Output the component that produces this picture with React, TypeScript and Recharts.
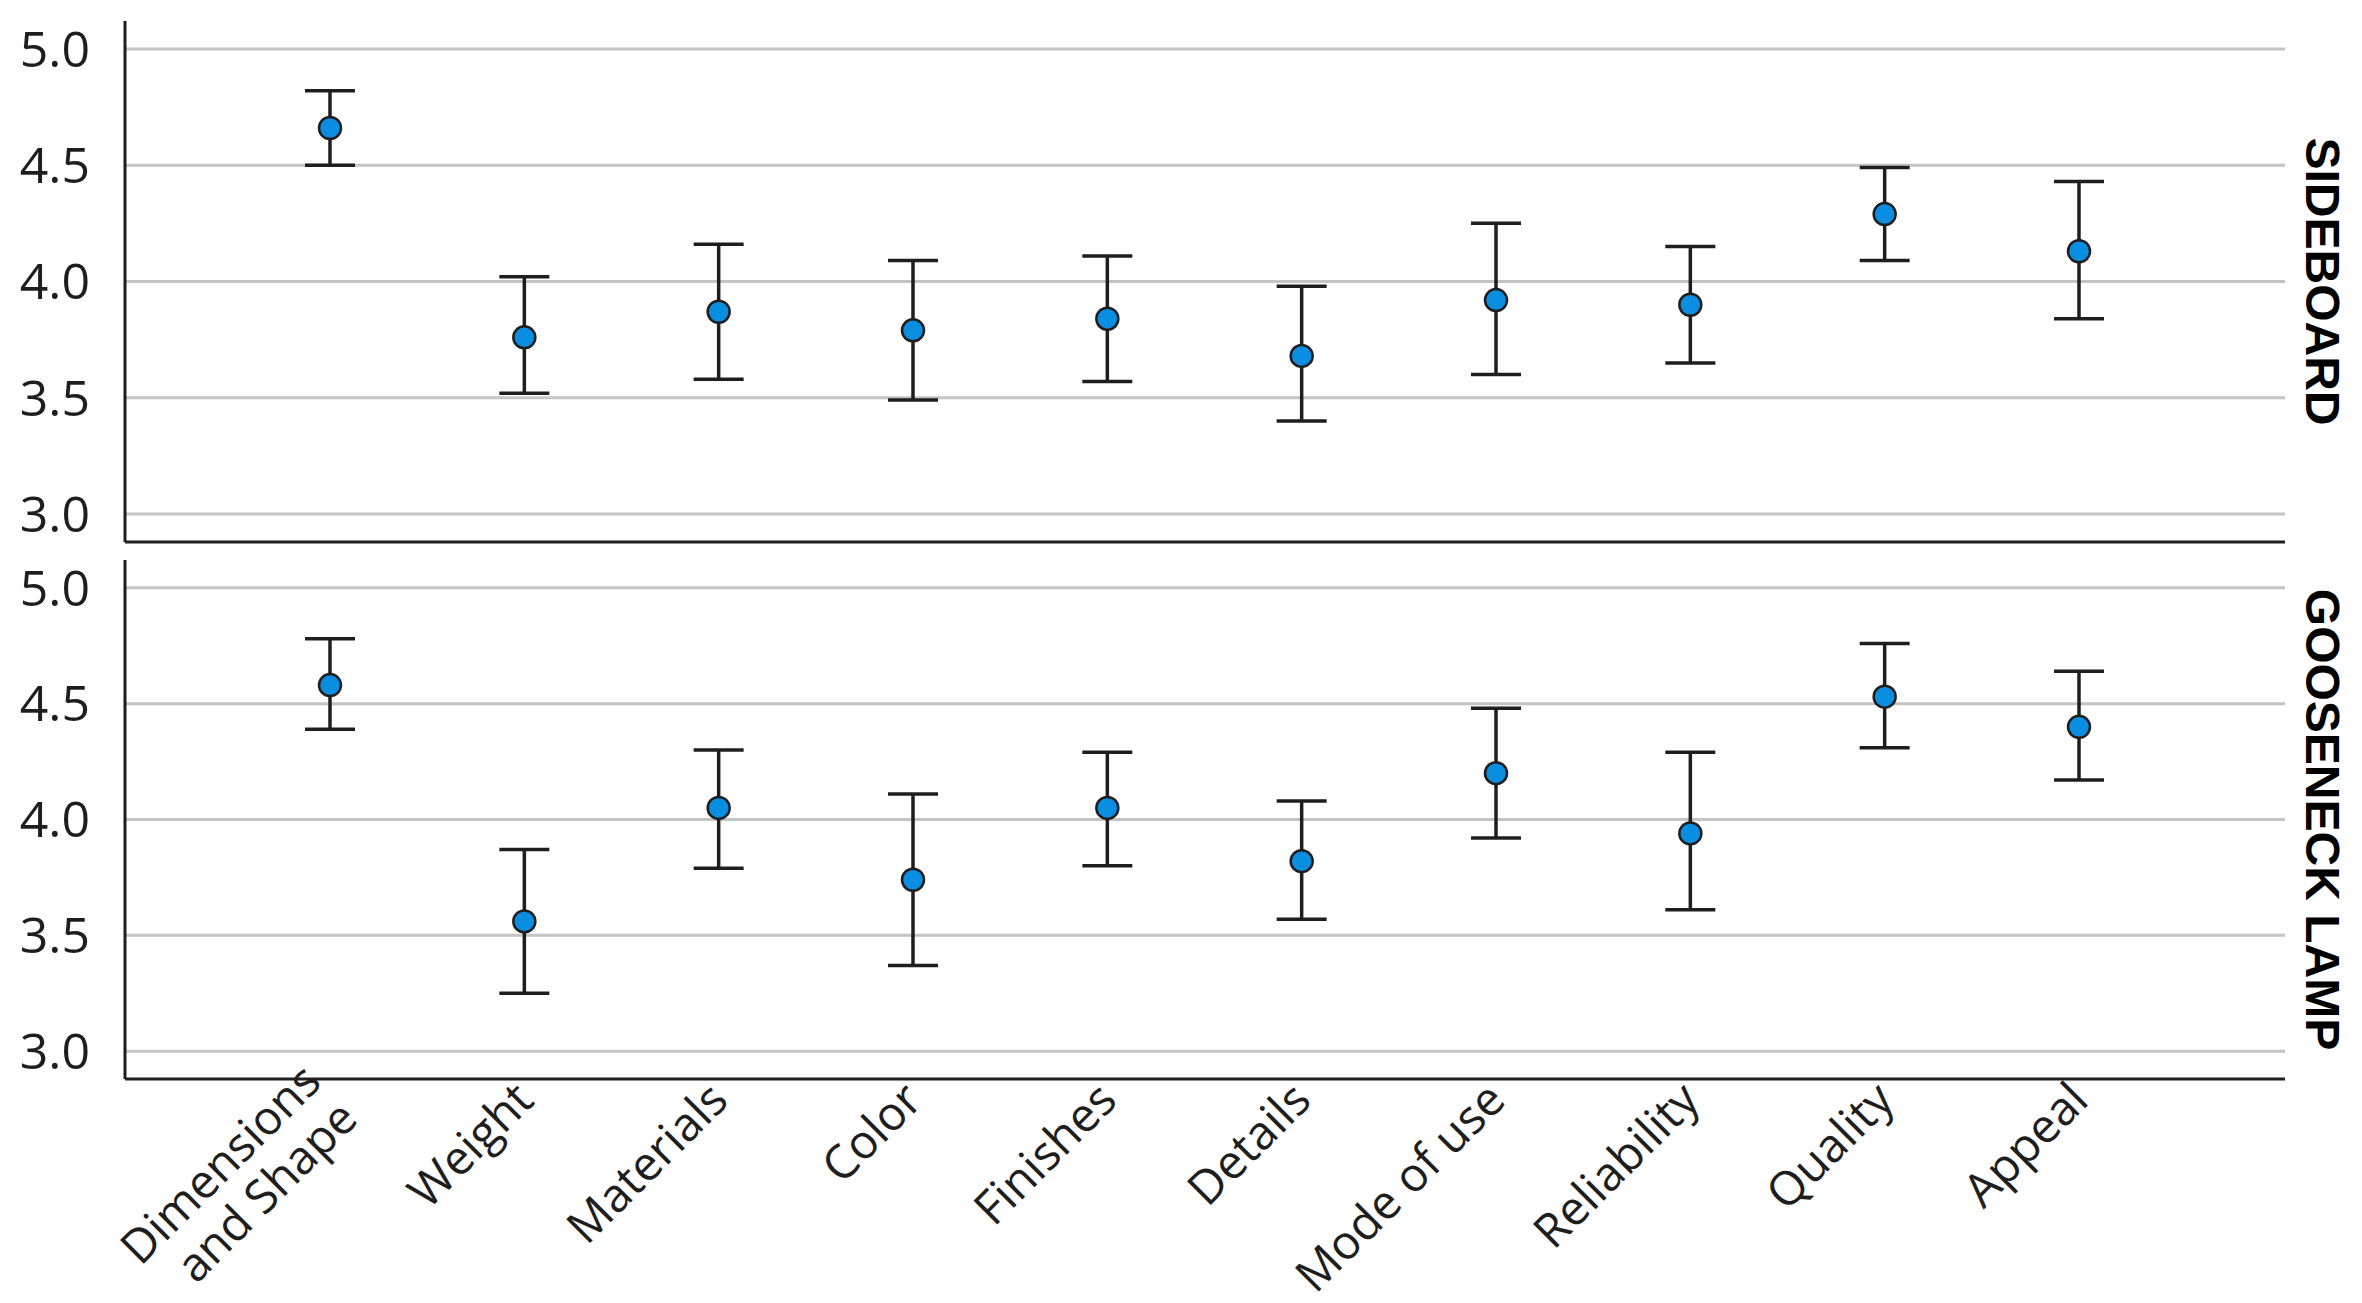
import React from "react";
import {
  LineChart,
  Line,
  XAxis,
  YAxis,
  CartesianGrid,
  ErrorBar,
} from "recharts";

/* ---------- data ---------- */
const categories = [
  "Dimensions\nand Shape",
  "Weight",
  "Materials",
  "Color",
  "Finishes",
  "Details",
  "Mode of use",
  "Reliability",
  "Quality",
  "Appeal",
];

const sideboardMean = [4.66, 3.76, 3.87, 3.79, 3.84, 3.68, 3.92, 3.9, 4.29, 4.13];
const sideboardLow = [4.5, 3.52, 3.58, 3.49, 3.57, 3.4, 3.6, 3.65, 4.09, 3.84];
const sideboardHigh = [4.82, 4.02, 4.16, 4.09, 4.11, 3.98, 4.25, 4.15, 4.49, 4.43];

const lampMean = [4.58, 3.56, 4.05, 3.74, 4.05, 3.82, 4.2, 3.94, 4.53, 4.4];
const lampLow = [4.39, 3.25, 3.79, 3.37, 3.8, 3.57, 3.92, 3.61, 4.31, 4.17];
const lampHigh = [4.78, 3.87, 4.3, 4.11, 4.29, 4.08, 4.48, 4.29, 4.76, 4.64];

const yTicks = [3.0, 3.5, 4.0, 4.5, 5.0];
const yDomain: [number, number] = [2.88, 5.12];

/* ---------- style ---------- */
const FONT = "'Open Sans', 'Noto Sans', sans-serif";
const INK = "#1e1e1e";
const W = 2362;

/* rotated, possibly two-line category label */
const XTick = (props: any) => {
  const { x, y, payload } = props;
  const lines = String(payload.value).split("\n");
  const lh = 52;
  return (
    <g transform={`translate(${x},${y}) rotate(-45)`}>
      {lines.map((l, i) => (
        <text
          key={i}
          x={0}
          y={(i - (lines.length - 1) / 2) * lh}
          dy="0.35em"
          textAnchor="end"
          fill={INK}
          fontSize={47}
          fontFamily={FONT}
        >
          {l}
        </text>
      ))}
    </g>
  );
};

interface PanelProps {
  title: string;
  mean: number[];
  low: number[];
  high: number[];
  height: number;
  top: number;
  showLabels?: boolean;
}

const Panel: React.FC<PanelProps> = ({ title, mean, low, high, height, top, showLabels }) => {
  const data = categories.map((c, i) => ({
    name: c,
    mean: mean[i],
    err: [mean[i] - low[i], high[i] - mean[i]],
  }));

  return (
    <LineChart width={W} height={height} data={data} margin={{ top, right: 0, bottom: 0, left: 0 }}>
      <CartesianGrid vertical={false} horizontalValues={yTicks} stroke="#c4c4c4" strokeWidth={3} />
      <XAxis
        dataKey="name"
        interval={0}
        padding={{ left: 205, right: 206 }}
        height={showLabels ? 224 : 6}
        tick={showLabels ? <XTick /> : false}
        tickLine={false}
        tickSize={0}
        tickMargin={12}
        axisLine={{ stroke: INK, strokeWidth: 3 }}
      />
      <YAxis
        domain={yDomain}
        allowDataOverflow
        ticks={yTicks}
        width={125}
        tickFormatter={(v: number) => v.toFixed(1)}
        tick={{ fill: INK, fontSize: 50, fontFamily: FONT }}
        tickLine={false}
        tickSize={0}
        tickMargin={35}
        axisLine={{ stroke: INK, strokeWidth: 3 }}
      />
      <YAxis
        yAxisId="panel"
        orientation="right"
        width={77}
        domain={yDomain}
        allowDataOverflow
        ticks={yTicks}
        tick={false}
        tickLine={false}
        axisLine={false}
        label={{
          value: title,
          angle: 90,
          position: "center",
          fill: "#000",
          fontSize: 48,
          fontWeight: "bold",
          fontFamily: "'Liberation Sans', Arial, sans-serif",
        }}
      />
      <Line
        dataKey="mean"
        stroke="none"
        isAnimationActive={false}
        dot={{ r: 11, fill: "#0a8ee2", stroke: INK, strokeWidth: 2.5 }}
        activeDot={false}
      >
        <ErrorBar dataKey="err" width={25} stroke={INK} strokeWidth={3.5} />
      </Line>
    </LineChart>
  );
};

export default function App() {
  return (
    <div style={{ position: "absolute", left: 0, top: 0, width: W, height: 1303, background: "#fff" }}>
      <div style={{ position: "absolute", left: 0, top: 0 }}>
        <Panel
          title="SIDEBOARD"
          mean={sideboardMean}
          low={sideboardLow}
          high={sideboardHigh}
          height={548}
          top={21}
        />
      </div>
      <div style={{ position: "absolute", left: 0, top: 548 }}>
        <Panel
          title="GOOSENECK LAMP"
          mean={lampMean}
          low={lampLow}
          high={lampHigh}
          height={755}
          top={12}
          showLabels
        />
      </div>
    </div>
  );
}
